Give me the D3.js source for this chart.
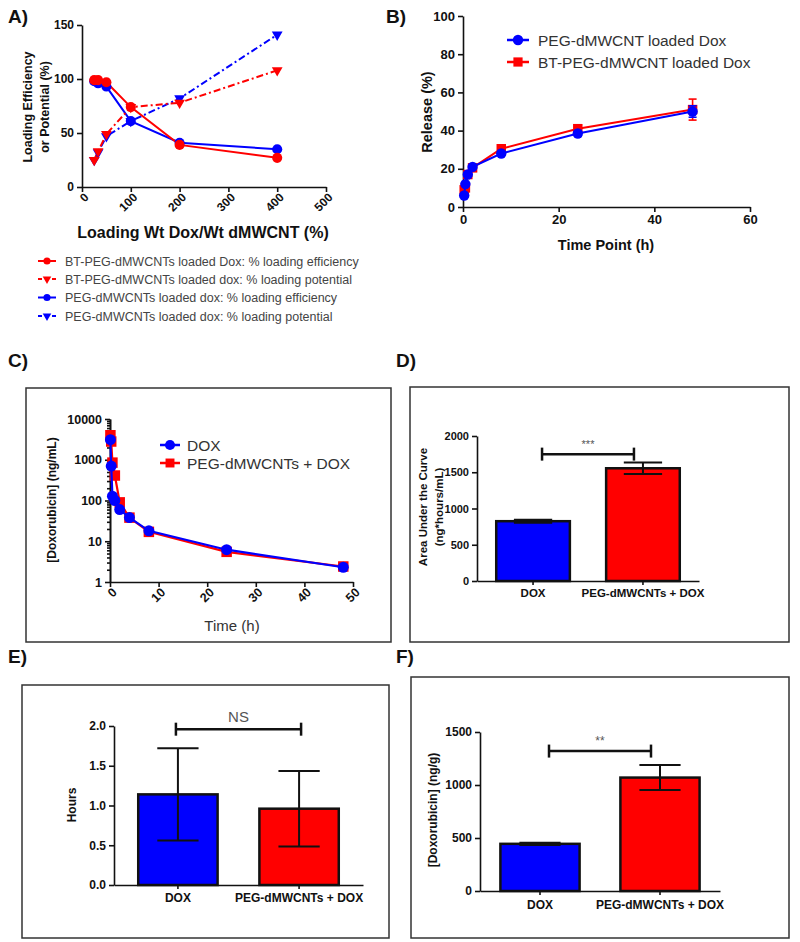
<!DOCTYPE html>
<html><head><meta charset="utf-8">
<script src="https://cdn.jsdelivr.net/npm/d3@7"></script>
<style>body{margin:0;background:#fff} svg text{font-family:Arial,"Liberation Sans",sans-serif}</style>
</head><body><svg id="c" width="800" height="942"></svg>
<script>
// ---------- DATA ----------
// Panel A
const loadRatio = [25, 33, 50, 100, 200, 400];
const btEff  = [99, 99, 97, 74, 39, 27];
const btPot  = [25, 33, 49, 74, 78, 108];
const pegEff = [98, 96, 93, 61, 41, 35];
const pegPot = [25, 32, 47, 61, 82, 141];
const legendA = ["BT-PEG-dMWCNTs loaded Dox: % loading efficiency",
  "BT-PEG-dMWCNTs loaded dox: % loading potential",
  "PEG-dMWCNTs loaded dox: % loading efficiency",
  "PEG-dMWCNTs loaded dox: % loading potential"];
// Panel B
const releaseTime = [0.25, 0.5, 1, 2, 8, 24, 48];
const pegRelease = [6, 12, 17, 21, 28, 38.5, 50];
const pegReleaseErr = [0.5, 0.5, 0.5, 0.5, 1, 1.5, 3];
const btRelease = [9, 10, 17, 20.5, 30.5, 41, 51];
const btReleaseErr = [0.5, 0.5, 0.5, 0.5, 1, 1, 5.5];
const legendB = ["PEG-dMWCNT loaded Dox", "BT-PEG-dMWCNT loaded Dox"];
// Panel C
const pkTime = [0.083, 0.25, 0.5, 1, 2, 4, 8, 24, 48];
const pkDox = [3100, 700, 128, 100, 60, 38, 18, 6.2, 2.3];
const pkPeg = [4000, 2800, 850, 410, 90, 38, 17, 5.5, 2.4];
const legendC = ["DOX", "PEG-dMWCNTs + DOX"];
// Panels D, E, F
const groups = ["DOX", "PEG-dMWCNTs + DOX"];
const aucMean = [825, 1555];
const aucErr = [20, 80];
const halfMean = [1.14, 0.96];
const halfErr = [0.58, 0.475];
const tissueMean = [445, 1070];
const tissueErr = [10, 118];

// ---------- HELPERS ----------
const svg = d3.select("#c");
const BLUE = "#0000ff", RED = "#ff0000", INK = "#111";

function styleAxis(g, fs, bold = true) {
  g.select(".domain").attr("stroke", INK).attr("stroke-width", 1.6);
  g.selectAll(".tick line").attr("stroke", INK).attr("stroke-width", 1.6);
  g.selectAll(".tick text").attr("fill", INK)
    .style("font-size", fs + "px").style("font-weight", bold ? "bold" : "normal")
    .style("font-family", "Arial, 'Liberation Sans', sans-serif");
  return g;
}
function rotateLabels(g) {
  g.selectAll(".tick text").attr("transform", "translate(4,8) rotate(-45)")
    .attr("x", 0).attr("y", 0).attr("dy", "0.35em").attr("text-anchor", "end");
}
function text(x, y, s, fs, opts = {}) {
  const t = svg.append("text").attr("x", x).attr("y", y).text(s)
    .attr("font-size", fs).attr("fill", opts.fill || INK)
    .attr("font-weight", opts.bold ? "bold" : "normal")
    .attr("text-anchor", opts.anchor || "start");
  if (opts.rot) t.attr("transform", `rotate(-90,${x},${y})`).attr("dominant-baseline", "central");
  return t;
}
function line(g, xs, ys, x, y, color, dash, w = 2) {
  g.append("path").datum(xs.map((d, i) => [d, ys[i]]))
    .attr("d", d3.line().x(d => x(d[0])).y(d => y(d[1])))
    .attr("fill", "none").attr("stroke", color).attr("stroke-width", w)
    .attr("stroke-dasharray", dash || null);
}
function marks(g, xs, ys, x, y, color, type, size, flip) {
  g.selectAll(null).data(xs.map((d, i) => [d, ys[i]])).join("path")
    .attr("d", d3.symbol().type(type).size(size))
    .attr("transform", d => `translate(${x(d[0])},${y(d[1])})${flip ? " rotate(180)" : ""}`)
    .attr("fill", color);
}
function errBars(g, xs, ys, es, x, y, color, cap) {
  xs.forEach((d, i) => {
    const cx = x(d), y1 = y(ys[i] - es[i]), y2 = y(ys[i] + es[i]);
    g.append("line").attr("x1", cx).attr("x2", cx).attr("y1", y1).attr("y2", y2).attr("stroke", color).attr("stroke-width", 1.6);
    [y1, y2].forEach(yy => g.append("line").attr("x1", cx - cap).attr("x2", cx + cap).attr("y1", yy).attr("y2", yy).attr("stroke", color).attr("stroke-width", 1.6));
  });
}
function frame(x0, y0, x1, y1) {
  svg.append("rect").attr("x", x0).attr("y", y0).attr("width", x1 - x0).attr("height", y1 - y0)
    .attr("fill", "none").attr("stroke", "#333").attr("stroke-width", 1.5);
}

// ---------- PANEL LABELS ----------
[["A)", 8, 23], ["B)", 386, 23], ["C)", 8, 367], ["D)", 396, 367], ["E)", 8, 663], ["F)", 396, 663]]
  .forEach(([s, x, y]) => text(x, y, s, 19, { bold: true }));

// ---------- PANEL A ----------
{
  const x = d3.scaleLinear([0, 500], [82, 326]);
  const y = d3.scaleLinear([0, 150], [187, 25]);
  const g = svg.append("g");
  styleAxis(g.append("g").attr("transform", "translate(82,0)")
    .call(d3.axisLeft(y).tickValues([0, 50, 100, 150]).tickSize(5).tickSizeOuter(0)), 12);
  const gx = styleAxis(g.append("g").attr("transform", "translate(0,187)")
    .call(d3.axisBottom(x).tickValues([0, 100, 200, 300, 400, 500]).tickSize(5).tickSizeOuter(0)), 12);
  rotateLabels(gx);
  const DD = "7,3,2,3";
  line(g, loadRatio, pegPot, x, y, BLUE, DD);
  line(g, loadRatio, pegEff, x, y, BLUE);
  line(g, loadRatio, btPot, x, y, RED, DD);
  line(g, loadRatio, btEff, x, y, RED);
  marks(g, loadRatio, pegPot, x, y, BLUE, d3.symbolTriangle, 50, true);
  marks(g, loadRatio, pegEff, x, y, BLUE, d3.symbolCircle, 80);
  marks(g, loadRatio, btPot, x, y, RED, d3.symbolTriangle, 50, true);
  marks(g, loadRatio, btEff, x, y, RED, d3.symbolCircle, 80);
  text(28, 107, "Loading Efficiency", 12.5, { bold: true, anchor: "middle", rot: true });
  text(45, 107, "or Potential (%)", 12.5, { bold: true, anchor: "middle", rot: true });
  text(203, 238, "Loading Wt Dox/Wt dMWCNT (%)", 16, { bold: true, anchor: "middle" });
  // legend
  const cols = [RED, RED, BLUE, BLUE];
  const ys = [261, 279, 297.5, 316];
  legendA.forEach((s, i) => {
    const pot = i % 2 === 1;
    svg.append("line").attr("x1", 38).attr("x2", 56).attr("y1", ys[i]).attr("y2", ys[i])
      .attr("stroke", cols[i]).attr("stroke-width", 2).attr("stroke-dasharray", pot ? "4,3" : null);
    svg.append("path").attr("d", d3.symbol().type(pot ? d3.symbolTriangle : d3.symbolCircle).size(pot ? 32 : 40))
      .attr("transform", `translate(47,${ys[i]})${pot ? " rotate(180)" : ""}`).attr("fill", cols[i]);
    text(65, ys[i] + 4.5, s, 12.5, { fill: "#444" });
  });
}

// ---------- PANEL B ----------
{
  const x = d3.scaleLinear([0, 60], [463, 750]);
  const y = d3.scaleLinear([0, 100], [207, 16]);
  const g = svg.append("g");
  styleAxis(g.append("g").attr("transform", "translate(463,0)")
    .call(d3.axisLeft(y).tickValues([0, 20, 40, 60, 80, 100]).tickSize(5).tickSizeOuter(0)), 13);
  styleAxis(g.append("g").attr("transform", "translate(0,207)")
    .call(d3.axisBottom(x).tickValues([0, 20, 40, 60]).tickSize(5).tickSizeOuter(0)), 13);
  line(g, releaseTime, btRelease, x, y, RED);
  errBars(g, releaseTime, btRelease, btReleaseErr, x, y, RED, 4);
  marks(g, releaseTime, btRelease, x, y, RED, d3.symbolSquare, 90);
  line(g, releaseTime, pegRelease, x, y, BLUE);
  errBars(g, releaseTime, pegRelease, pegReleaseErr, x, y, BLUE, 4);
  marks(g, releaseTime, pegRelease, x, y, BLUE, d3.symbolCircle, 85);
  text(427, 112, "Release (%)", 14.5, { bold: true, anchor: "middle", rot: true });
  text(606, 250, "Time Point (h)", 14.5, { bold: true, anchor: "middle" });
  [[BLUE, d3.symbolCircle, 40], [RED, d3.symbolSquare, 62]].forEach(([c, sym, yy], i) => {
    svg.append("line").attr("x1", 507).attr("x2", 529).attr("y1", yy).attr("y2", yy).attr("stroke", c).attr("stroke-width", 2.5);
    svg.append("path").attr("d", d3.symbol().type(sym).size(85)).attr("transform", `translate(518,${yy})`).attr("fill", c);
    text(538, yy + 5.5, legendB[i], 15.5, { fill: "#333" });
  });
}

// ---------- PANEL C ----------
{
  frame(26, 388, 391, 642);
  const x = d3.scaleLinear([0, 50], [110, 353]);
  const y = d3.scaleLog([1, 10000], [582, 419]);
  const g = svg.append("g");
  const minor = [];
  [1, 10, 100, 1000].forEach(d => { for (let k = 2; k <= 9; k++) minor.push(k * d); });
  styleAxis(g.append("g").attr("transform", "translate(110,0)")
    .call(d3.axisLeft(y).tickValues(minor).tickSize(3).tickFormat("").tickSizeOuter(0)), 12);
  styleAxis(g.append("g").attr("transform", "translate(110,0)")
    .call(d3.axisLeft(y).tickValues([1, 10, 100, 1000, 10000]).tickFormat(d3.format("d")).tickSize(5).tickSizeOuter(0)), 12.5);
  const gx = styleAxis(g.append("g").attr("transform", "translate(0,582)")
    .call(d3.axisBottom(x).tickValues([0, 10, 20, 30, 40, 50]).tickSize(5).tickSizeOuter(0)), 12.5);
  rotateLabels(gx);
  line(g, pkTime, pkPeg, x, y, RED, null, 2.2);
  marks(g, pkTime, pkPeg, x, y, RED, d3.symbolSquare, 110);
  line(g, pkTime, pkDox, x, y, BLUE, null, 2.2);
  marks(g, pkTime, pkDox, x, y, BLUE, d3.symbolCircle, 95);
  text(52, 500, "[Doxorubicin] (ng/mL)", 12, { bold: true, anchor: "middle", rot: true });
  text(232, 631, "Time (h)", 15, { anchor: "middle", fill: "#333" });
  [[BLUE, d3.symbolCircle, 445], [RED, d3.symbolSquare, 463]].forEach(([c, sym, yy], i) => {
    svg.append("line").attr("x1", 160).attr("x2", 180).attr("y1", yy).attr("y2", yy).attr("stroke", c).attr("stroke-width", 2.5);
    svg.append("path").attr("d", d3.symbol().type(sym).size(80)).attr("transform", `translate(170,${yy})`).attr("fill", c);
    text(187, yy + 5.5, legendC[i], 15.5, { fill: "#333" });
  });
}

// ---------- BAR PANELS ----------
function barPanel(o) {
  frame(...o.box);
  const x = d3.scaleBand(groups, [o.x0, o.x1]).paddingInner(o.pi).paddingOuter(o.po);
  const y = d3.scaleLinear([0, o.max], [o.y0, o.y1]);
  const g = svg.append("g");
  g.selectAll(null).data(groups).join("rect")
    .attr("x", d => x(d)).attr("width", x.bandwidth())
    .attr("y", (d, i) => y(o.mean[i])).attr("height", (d, i) => y(0) - y(o.mean[i]))
    .attr("fill", (d, i) => i === 0 ? BLUE : RED).attr("stroke", INK).attr("stroke-width", 2.5);
  const cap = x.bandwidth() * 0.26;
  groups.forEach((d, i) => {
    const cx = x(d) + x.bandwidth() / 2, a = y(o.mean[i] - o.err[i]), b = y(o.mean[i] + o.err[i]);
    g.append("line").attr("x1", cx).attr("x2", cx).attr("y1", a).attr("y2", b).attr("stroke", INK).attr("stroke-width", 2);
    [a, b].forEach(yy => g.append("line").attr("x1", cx - cap).attr("x2", cx + cap).attr("y1", yy).attr("y2", yy).attr("stroke", INK).attr("stroke-width", 2));
  });
  styleAxis(g.append("g").attr("transform", `translate(${o.x0},0)`)
    .call(d3.axisLeft(y).tickValues(o.ticks).tickFormat(o.fmt).tickSize(5).tickSizeOuter(0)), o.fs);
  const gx = styleAxis(g.append("g").attr("transform", `translate(0,${o.y0})`)
    .call(d3.axisBottom(x).tickSize(4).tickSizeOuter(0)), o.xfs);
  gx.selectAll(".tick text").attr("y", 0).attr("dy", null).attr("transform", `translate(0,${o.xlab - o.y0})`);
  // significance bar
  const sy = y(o.sig), sa = x(groups[0]) + x.bandwidth() / 2 + o.inset, sb = x(groups[1]) + x.bandwidth() / 2 - o.inset;
  g.append("line").attr("x1", sa).attr("x2", sb).attr("y1", sy).attr("y2", sy).attr("stroke", INK).attr("stroke-width", 2.5);
  [sa, sb].forEach(sx => g.append("line").attr("x1", sx).attr("x2", sx).attr("y1", sy - 6.5).attr("y2", sy + 6.5).attr("stroke", INK).attr("stroke-width", 2.5));
  text((sa + sb) / 2, o.starY, o.star, o.starFs, { anchor: "middle", fill: "#555" });
}

barPanel({ box: [410, 387, 789, 642], x0: 477, x1: 699, y0: 581, y1: 436, max: 2000, pi: 0.33, po: 0.175,
  mean: aucMean, err: aucErr, ticks: [0, 500, 1000, 1500, 2000], fmt: d3.format("d"), fs: 11, xfs: 11.5, xlab: 597,
  sig: 1750, inset: 9, star: "***", starY: 448, starFs: 11 });
text(423, 507, "Area Under the Curve", 11.5, { bold: true, anchor: "middle", rot: true });
text(439, 507, "(ng*hours/mL)", 11.5, { bold: true, anchor: "middle", rot: true });

barPanel({ box: [22, 685, 389, 938], x0: 114, x1: 363, y0: 885, y1: 726, max: 2, pi: 0.345, po: 0.2,
  mean: halfMean, err: halfErr, ticks: [0, 0.5, 1, 1.5, 2], fmt: d3.format(".1f"), fs: 12, xfs: 12, xlab: 902,
  sig: 1.96, inset: -2, star: "NS", starY: 722, starFs: 15 });
text(72, 805, "Hours", 12, { bold: true, anchor: "middle", rot: true });

barPanel({ box: [411, 677, 789, 938], x0: 480, x1: 720, y0: 891, y1: 732, max: 1500, pi: 0.34, po: 0.17,
  mean: tissueMean, err: tissueErr, ticks: [0, 500, 1000, 1500], fmt: d3.format("d"), fs: 12, xfs: 12, xlab: 909,
  sig: 1320, inset: 9, star: "**", starY: 745, starFs: 12 });
text(433, 810, "[Doxorubicin] (ng/g)", 12, { bold: true, anchor: "middle", rot: true });
</script></body></html>
